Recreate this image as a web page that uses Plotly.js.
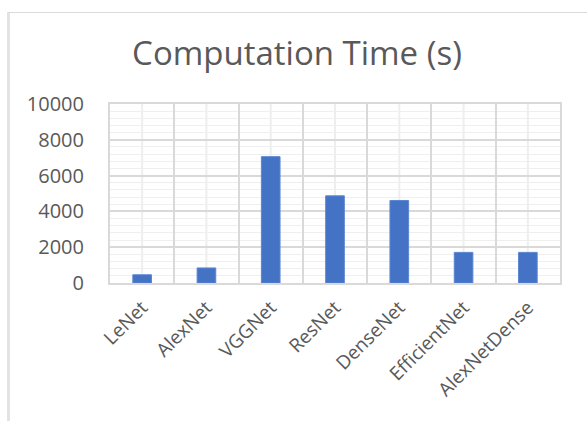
<!DOCTYPE html>
<html>
<head>
<meta charset="utf-8">
<script src="https://cdn.plot.ly/plotly-3.0.1.min.js"></script>
<style>
  html, body { margin:0; padding:0; background:#fff; }
  #chart { position:absolute; left:0; top:0; width:587px; height:421px; }
  #frame { position:absolute; left:7px; top:12px; width:590px; height:420px;
           border-top:1px solid #d9d9d9; border-left:3px solid #e3e3e3; pointer-events:none; }
</style>
</head>
<body>
<div id="chart"></div>
<div id="frame"></div>
<script>
const categories = ["LeNet", "AlexNet", "VGGNet", "ResNet", "DenseNet", "EfficientNet", "AlexNetDense"];
const computationTime = [460, 840, 7060, 4870, 4610, 1710, 1710];
const yTicks = [0, 2000, 4000, 6000, 8000, 10000];

const centerLines = categories.map((c, i) => ({
  type: "line", xref: "x", yref: "paper", layer: "below",
  x0: i, x1: i, y0: 0, y1: 1,
  line: { color: "#eeeeee", width: 2 }
}));

const trace = {
  type: "bar",
  x: categories,
  y: computationTime,
  marker: { color: "#4472C4", line: { color: "#5b86d0", width: 1 } },
  hoverinfo: "skip"
};

const layout = {
  width: 587, height: 421,
  margin: { l: 110, r: 27, t: 104, b: 138, pad: 0 },
  paper_bgcolor: "#ffffff",
  plot_bgcolor: "#ffffff",
  bargap: 0.71,
  showlegend: false,
  font: { family: "Open Sans, sans-serif", color: "#595959" },
  title: {
    text: "Computation Time (s)",
    font: { family: "Open Sans, sans-serif", size: 33, color: "#595959" },
    xref: "container", x: 0.506, xanchor: "center",
    yref: "container", y: 1 - 53 / 421, yanchor: "middle"
  },
  xaxis: {
    type: "category",
    tickson: "boundaries",
    showgrid: true, gridcolor: "#d9d9d9", gridwidth: 2,
    showline: true, linecolor: "#d9d9d9", linewidth: 2, mirror: true,
    ticks: "", tickangle: -45,
    ticklabelstandoff: 4,
    tickfont: { family: "Open Sans, sans-serif", size: 19, color: "#595959" },
    range: [-0.5, categories.length - 0.5]
  },
  yaxis: {
    range: [0, 10000],
    tickvals: yTicks,
    ticktext: yTicks.map(String),
    showgrid: true, gridcolor: "#d9d9d9", gridwidth: 2,
    minor: { dtick: 400, showgrid: true, gridcolor: "#efefef", gridwidth: 1 },
    zeroline: false,
    showline: true, linecolor: "#d9d9d9", linewidth: 2, mirror: true,
    ticks: "", ticklabelstandoff: 20,
    tickfont: { family: "Open Sans, sans-serif", size: 20, color: "#595959" }
  },
  shapes: centerLines
};

Plotly.newPlot("chart", [trace], layout, { staticPlot: true, displayModeBar: false });
</script>
</body>
</html>
